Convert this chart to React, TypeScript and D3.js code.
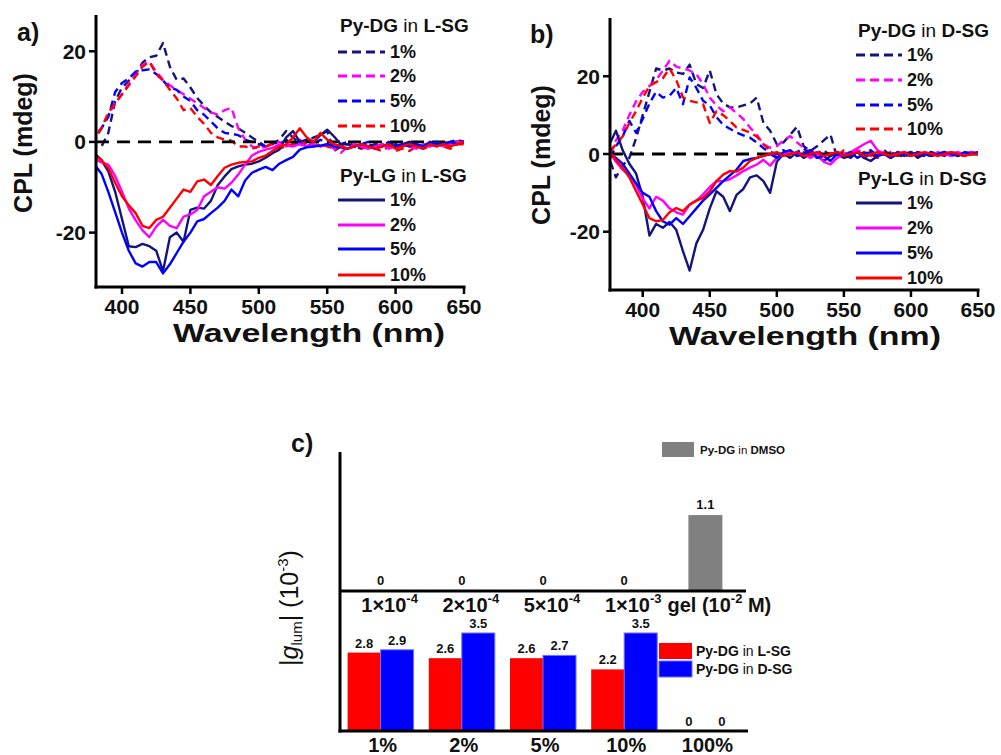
import React from "react";
import * as d3 from "d3";

// wavelength grid (nm) shared by all spectra
const WL = [376, 380, 385, 390, 395, 400, 405, 410, 415, 420, 425, 430, 435, 440, 445, 450,
  455, 460, 465, 470, 475, 480, 485, 490, 495, 500, 505, 510, 515, 520, 525, 530,
  535, 540, 545, 550, 555, 560, 565, 570, 575, 580, 585, 590, 595, 600, 605, 610,
  615, 620, 625, 630, 635, 640, 645, 650];

const CONC = ["1%", "2%", "5%", "10%"];
const CONC_COLORS = ["#14147f", "#ff00ff", "#0000ff", "#ff0000"];

// panel a: Py-DG in L-SG (dashed)
const A_DG_1 = [-1, -1, -1, 2, 9, 12, 13.5, 15, 17.5, 18.7, 19, 21.8, 16.6, 13.7, 14, 12,
  9.7, 8, 6.5, 5.5, 4.5, 3.5, 3, 2, 1, 0, -1, -0.5, 0.5, 2.4, 1, -0.5,
  0, 1, 1.5, 2.4, -2, -1, -0.5, -1, -1.5, -0.5, -1, -0.5, -1, -0.5, -1, 0,
  -0.5, -1, 0, -0.5, 0, -0.5, 0, 0];
const A_DG_2 = [0, 1, 3, 6, 8.5, 10.5, 12.9, 15, 17, 17.7, 15.5, 13.7, 12.5, 11.5, 10.5, 9.5,
  8.5, 7.5, 6.5, 6, 7, 7.5, 3, 0.5, -1, -1.5, -1, -0.5, 0, -1, -0.5, 0.5,
  -1, 0, -1, -0.5, -1.5, -2.4, -1, -0.5, -1, -1.5, -0.5, -1, 0, -1, -0.5, -1,
  -0.5, -1.5, -0.5, -1, 0, -0.5, 0, 0];
const A_DG_5 = [0.5, 1.5, 3, 5.5, 11, 13, 14, 15.5, 15.8, 16, 15, 13.5, 12, 11.5, 10, 9,
  7, 6, 4.5, 3, 2, 1.8, 1.5, 0.5, 0, -0.5, -1, 0, -0.5, 0.5, -0.5, 0,
  -1, -0.5, 0.5, -0.5, -1, -0.5, 0, -1, -0.5, 0, -0.5, -1, 0, -0.5, -1, -0.5,
  0, -0.5, -1, 0, -0.5, 0, 0.5, 0];
const A_DG_10 = [0, 0.5, 3, 6.5, 8.5, 10.5, 12.5, 14.5, 16.6, 17.7, 15, 13.5, 11.5, 9.6, 7, 7.5,
  5.5, 4, 2, 1, 0.5, 0.3, -1, -1, -1.5, -1, -1, -0.5, -1.5, -1, -0.5, -1,
  0, -1, -0.5, -1, -1.5, -1, -0.5, -1, -1.5, -1, -1.5, -2, -1, -2, -1.5, -2,
  -1, -1.5, -1, -0.5, -1, -1.5, -0.5, -0.5];

// panel a: Py-LG in L-SG (solid)
const A_LG_1 = [-2, -2.5, -4, -6.5, -11, -17, -23, -23.2, -22.5, -23, -24, -28.5, -21, -20, -22, -15,
  -14.5, -14.7, -13, -9.5, -7.6, -6, -5.4, -5, -4.8, -4.3, -3.5, -2.5, -1.7, 1, 2.4, 0,
  0.5, 0, 1.5, 2.7, 1.2, -0.5, -0.5, -1, -0.5, -1, -0.5, -1, -0.5, -1, -0.5, 0,
  -0.5, -1, -0.5, 0, -0.5, 0, -0.5, 0];
const A_LG_2 = [-3.5, -3.8, -4.5, -5, -7.5, -11, -14.7, -17.3, -19.5, -21, -18.7, -17.2, -18.5, -19, -16.5, -16,
  -15, -12, -11, -10, -10.3, -9, -7.2, -5, -3, -2.2, -1.7, -1.3, -0.6, -0.8, -1, -0.5,
  -1, -0.5, -1, -0.5, -1.2, -1, -1.5, -0.5, -1, -1.5, -1, -0.5, -1.5, -1, -0.5, -1,
  -1.5, -0.5, -1, -0.5, -1, -0.5, 0, 0];
const A_LG_5 = [-4, -5, -7, -11, -15.5, -20, -24, -26.8, -27.5, -26.5, -26.5, -29, -27, -24.5, -22, -20,
  -17.5, -17, -15.7, -14.5, -13, -10.5, -12, -8.5, -6.8, -6.1, -5.5, -6.2, -4.8, -4, -3.3, -1.7,
  -1.2, -1, -0.8, -0.5, -1, -1.2, -1.5, -1, -0.5, -1, -1.5, -1, -0.5, -1, -0.5, -1,
  -0.5, -1, 0, -0.5, -0.5, 0, -0.5, 0];
const A_LG_10 = [-2.5, -3, -4, -5.8, -9, -12, -14, -15.7, -18.5, -19, -17.2, -16.5, -14.5, -12.5, -10.5, -11,
  -8.7, -8.3, -9.5, -7.5, -5.7, -5, -4.6, -4.4, -4.3, -3.5, -3, -2, -1, -0.6, 1, 3,
  1, 0, 2, 0.5, -0.5, -1, -1.5, -1, -0.5, -1, -1.5, -1, -0.5, -1.5, -1, -0.5,
  -1, -1.5, -0.5, -1, -0.5, -1, -0.5, 0];

// panel b: Py-DG in D-SG (dashed)
const B_DG_1 = [-2, -6, -3, -1, 4, 10, 16, 22, 21.5, 22, 21, 20.6, 23, 18, 17, 21.5,
  15.4, 13, 12, 12, 12.5, 13, 14.5, 8, 6, 2.5, 3, 5, 7, 2, 0.8, 2,
  3.5, 5, -1, 0, -0.5, 0.5, -1, 0, -0.5, 1, -0.5, 0, -1, 0.5, 0, -0.5,
  0.5, -0.5, 0, 0.5, -0.5, 0, 0.5, 0];
const B_DG_2 = [0, 3.5, 6, 10, 13.5, 16, 17.5, 19, 21.5, 24, 22.5, 22, 21.5, 20.5, 18, 14.5,
  12.5, 11, 12, 10.5, 9, 6.8, 5, 2.5, 1.6, 2, 3.5, 4.6, 3, 1.6, 0.5, 1,
  -0.5, 0, 0.5, -0.5, 0, 1, 0.5, -0.5, 0, 0.5, -0.5, 0, 0.5, 0, -0.5, 0.5,
  0, -0.5, 0.5, 0, 0.5, 0, 0, 0.5];
const B_DG_5 = [-1, 2, 4.5, 8.5, 5.5, 9, 13, 16, 14.5, 15, 17, 12.8, 19.7, 17, 13.7, 12.5,
  9.5, 7.5, 6.5, 5.5, 4.8, 4.2, 3, 1.5, 0.5, 0, 1, -0.5, 0.5, 1.5, -0.5, 0,
  1, -0.5, 0.5, 0, -1, 0.5, 0, 1, -0.5, 0, 0.5, -0.5, 0, 0.5, 0, -0.5,
  0.5, 0, -0.5, 0.5, 0, 0.5, 0, 0.5];
const B_DG_10 = [0.8, 2.5, 4.5, 8, 11, 14.5, 17.5, 18.5, 19.5, 22, 19, 14.6, 13.7, 13.3, 12.8, 8,
  11, 10, 8.5, 6.8, 6.2, 5.5, 4.5, 2.5, 1, -1, 0, 1, -0.5, 0.5, 0, -1,
  0.5, 0, -0.5, 1, 0, -0.5, 0.5, 0, -1, 0, 0.5, -0.5, 0, 0.5, -0.5, 0,
  0.5, -0.5, 0, 0.5, 0, -0.5, 0.5, 0];

// panel b: Py-LG in D-SG (solid)
const B_LG_1 = [3, 6, 1, -2.5, -5, -11, -21, -18, -19, -17.5, -19.5, -25, -30, -23, -19.5, -14,
  -9.6, -11, -14.7, -10.5, -9, -6, -5.5, -7, -10, -2, 0, -1, 0.5, -1, 0, -0.5,
  -1.8, -0.5, 0, -1, -0.5, 0.5, -1, -1.8, -0.5, 0, -1, 0, -0.5, 0.5, -1, 0,
  -0.5, 0, 0.5, -0.5, 0, -0.5, 0.5, 0];
const B_LG_2 = [0, -2, -4, -5.5, -8, -11.5, -14, -11, -12, -14, -15, -15.6, -13, -12, -10.4, -8.5,
  -7, -7, -6.5, -5.5, -4.4, -3.5, -2.7, -1.5, -3, -1, 0, 0.5, -0.5, 0, -1, 0,
  -2, -2.7, -1, 0, 0.5, 1.5, 2.5, 3.4, 1, 0, -0.5, 0.5, 0, -0.5, 0.5, 0,
  -0.5, 0.5, 0, -0.5, 0.5, 0, 0.5, 0];
const B_LG_5 = [0, -1, -2.5, -5, -7.5, -10, -11, -14.7, -17.3, -18.2, -16.5, -18, -16, -14, -12, -10.4,
  -8.7, -7, -5.5, -4, -1.8, -1.3, -1, -0.5, 0, -1, 0.5, 1, -0.5, 0, 1, -1,
  -0.5, -1.8, 0, -0.5, 0.5, -1, 0, 0.5, -0.5, 0, -1, 0.5, 0, -0.5, 0.5, 0,
  -0.5, 0, 0.5, 0, -0.5, 0.5, 0, 0.5];
const B_LG_10 = [0.3, -1.5, -3.5, -6, -9.5, -13, -16.5, -17.3, -17, -15, -13.9, -14.7, -13, -12, -11.3, -9.6,
  -7, -5.3, -4.4, -4.5, -3.5, -1.8, -1, -0.5, 0, 0.5, -0.5, 0, 0.5, -0.5, 0, 0.5,
  -0.5, 0, 0.5, -0.5, 0, 0.5, -0.5, 0, 0.5, 0, -0.5, 0, 0.5, -0.5, 0, 0.5,
  0, -0.5, 0, 0.5, 0, -0.5, 0, 0];

const X_TICKS = [400, 450, 500, 550, 600, 650];
const Y_TICKS = [-20, 0, 20];

// panel c
const UPPER_BASE = ["1×10", "2×10", "5×10", "1×10", "gel (10"];
const UPPER_EXP = ["-4", "-4", "-4", "-3", "-2"];
const UPPER_TAIL = ["", "", "", "", " M)"];
const UPPER_VALS = [0, 0, 0, 0, 1.1];
const LOWER_CATS = ["1%", "2%", "5%", "10%", "100%"];
const L_SG = [2.8, 2.6, 2.6, 2.2, 0];
const D_SG = [2.9, 3.5, 2.7, 3.5, 0];

const FONT = "'Liberation Sans', Arial, Helvetica, sans-serif";

function Spectrum({ cfg }) {
  const x = d3.scaleLinear().domain(cfg.xDomain).range([cfg.left, cfg.right]);
  const y = d3.scaleLinear().domain(cfg.yDomain).range([cfg.bottom, cfg.top]);
  const line = d3.line<number>().x((_, i) => x(WL[i])).y((d) => y(d));
  const clipId = "clip-" + cfg.id;
  return (
    <g>
      <defs>
        <clipPath id={clipId}>
          <rect x={cfg.left} y={cfg.top} width={cfg.right - cfg.left} height={cfg.bottom - cfg.top} />
        </clipPath>
      </defs>
      <g clipPath={`url(#${clipId})`} fill="none" strokeWidth={2.4} strokeLinejoin="round">
        {cfg.dg.map((s, i) => (
          <path key={"dg" + i} d={line(s)} stroke={CONC_COLORS[i]} strokeDasharray="8,5" />
        ))}
        <line x1={x(cfg.xDomain[0])} x2={x(650)} y1={y(0)} y2={y(0)} stroke="#000" strokeWidth={2.8} strokeDasharray="13,8" />
        {cfg.lg.map((s, i) => (
          <path key={"lg" + i} d={line(s)} stroke={CONC_COLORS[i]} />
        ))}
      </g>
      {/* axes */}
      <g stroke="#000" strokeWidth={3}>
        <line x1={cfg.left} x2={cfg.left} y1={cfg.top} y2={cfg.bottom + 1.5} />
        <line x1={cfg.left - 1.5} x2={cfg.right + 1.5} y1={cfg.bottom} y2={cfg.bottom} />
        {X_TICKS.map((t) => (
          <line key={t} x1={x(t)} x2={x(t)} y1={cfg.bottom} y2={cfg.bottom + 7} strokeWidth={2.5} />
        ))}
        {Y_TICKS.map((t) => (
          <line key={t} x1={cfg.left - 7} x2={cfg.left} y1={y(t)} y2={y(t)} strokeWidth={2.5} />
        ))}
      </g>
      <g fontFamily={FONT} fontWeight="bold" fontSize={21} fill="#111">
        {X_TICKS.map((t) => (
          <text key={t} x={x(t)} y={cfg.bottom + 27} textAnchor="middle">{t}</text>
        ))}
        {Y_TICKS.map((t) => (
          <text key={t} x={cfg.left - 10} y={y(t)} dy="0.36em" textAnchor="end">{t}</text>
        ))}
        <text x={cfg.xLabelX} y={cfg.bottom + 55} textAnchor="middle" fontSize={25} textLength={272} lengthAdjust="spacingAndGlyphs">Wavelength (nm)</text>
        <text transform={`translate(${cfg.yLabelX},${cfg.yLabelY}) rotate(-90)`} textAnchor="middle" fontSize={25}>CPL (mdeg)</text>
        <text x={cfg.letterX} y={cfg.letterY} fontSize={25}>{cfg.letter}</text>
      </g>
      {/* legend */}
      <g fontFamily={FONT} fontSize={19} fill="#111">
        <text x={cfg.legX0 + 2} y={cfg.title1Y}>
          <tspan fontWeight="bold">Py-DG</tspan><tspan> in </tspan><tspan fontWeight="bold">{cfg.gel}</tspan>
        </text>
        <text x={cfg.legX0 + 2} y={cfg.title2Y}>
          <tspan fontWeight="bold">Py-LG</tspan><tspan> in </tspan><tspan fontWeight="bold">{cfg.gel}</tspan>
        </text>
        {CONC.map((c, i) => (
          <g key={c}>
            <line x1={cfg.legX0} x2={cfg.legX1} y1={cfg.dgY[i]} y2={cfg.dgY[i]} stroke={CONC_COLORS[i]} strokeWidth={3} strokeDasharray="9,5" />
            <text x={cfg.legX1 + 5} y={cfg.dgY[i]} dy="0.36em" fontWeight="bold" fontSize={18}>{c}</text>
            <line x1={cfg.legX0} x2={cfg.legX1} y1={cfg.lgY[i]} y2={cfg.lgY[i]} stroke={CONC_COLORS[i]} strokeWidth={3} />
            <text x={cfg.legX1 + 5} y={cfg.lgY[i]} dy="0.36em" fontWeight="bold" fontSize={18}>{c}</text>
          </g>
        ))}
      </g>
    </g>
  );
}

function BarPanel() {
  const left = 340, right = 746, top = 452, mid = 591, bottom = 731;
  const x0 = d3.scaleBand<string>().domain(LOWER_CATS).range([left, right]);
  const x1 = d3.scaleBand<string>().domain(["L", "D"]).range([0, 66]);
  const off = (x0.bandwidth() - 66) / 2;
  const yUp = d3.scaleLinear().domain([0, 2]).range([mid, top + 1]);
  const yLo = d3.scaleLinear().domain([0, 5]).range([bottom, mid]);
  const barW = 34;
  return (
    <g fontFamily={FONT} fill="#111">
      {/* upper chart (DMSO) */}
      {UPPER_VALS.map((v, i) => {
        const cx = x0(LOWER_CATS[i])! + x0.bandwidth() / 2;
        return (
          <g key={"u" + i}>
            {v > 0 && <rect x={cx - barW / 2} y={yUp(v)} width={barW} height={yUp(0) - yUp(v)} fill="#808080" />}
            <text x={cx} y={yUp(v) - 6} textAnchor="middle" fontSize={13} fontWeight="bold">{v}</text>
            <text x={cx + (i === 4 ? 14 : 9)} y={mid + 21} textAnchor="middle" fontSize={20} fontWeight="bold">
              {UPPER_BASE[i]}<tspan fontSize={13} dy={-9}>{UPPER_EXP[i]}</tspan><tspan dy={9}>{UPPER_TAIL[i]}</tspan>
            </text>
          </g>
        );
      })}
      {/* lower chart (gels) */}
      {LOWER_CATS.map((c, i) => {
        const gx = x0(c)! + off;
        const bars = [
          { k: "L", v: L_SG[i], col: "#ff0000" },
          { k: "D", v: D_SG[i], col: "#0000ff" },
        ];
        return (
          <g key={c}>
            {bars.map((b) => (
              <g key={b.k}>
                {b.v > 0 && (
                  <rect x={gx + x1(b.k)!} y={yLo(b.v)} width={x1.bandwidth()} height={yLo(0) - yLo(b.v)} fill={b.col} stroke={b.col === "#0000ff" ? "#6f6fff" : "none"} strokeWidth={1} />
                )}
                <text x={gx + x1(b.k)! + x1.bandwidth() / 2} y={yLo(b.v) - 5} textAnchor="middle" fontSize={13} fontWeight="bold">{b.v}</text>
              </g>
            ))}
            <text x={x0(c)! + x0.bandwidth() / 2 + 2} y={bottom + 21} textAnchor="middle" fontSize={20} fontWeight="bold">{c}</text>
          </g>
        );
      })}
      <g stroke="#000" strokeWidth={3}>
        <line x1={left} x2={left} y1={top} y2={bottom + 1.5} />
        <line x1={left} x2={right} y1={mid} y2={mid} />
        <line x1={left - 1.5} x2={right + 2} y1={bottom} y2={bottom} />
      </g>
      {/* legends */}
      <rect x={662} y={442} width={32} height={15} fill="#808080" />
      <text x={700} y={454} fontSize={11.5}>
        <tspan fontWeight="bold">Py-DG</tspan><tspan> in </tspan><tspan fontWeight="bold">DMSO</tspan>
      </text>
      <rect x={659} y={643} width={33} height={16} fill="#ff0000" />
      <rect x={659} y={661} width={33} height={16} fill="#0000ff" stroke="#6f6fff" strokeWidth={1} />
      <text x={696} y={656} fontSize={14}>
        <tspan fontWeight="bold">Py-DG</tspan><tspan> in </tspan><tspan fontWeight="bold">L-SG</tspan>
      </text>
      <text x={696} y={674} fontSize={14}>
        <tspan fontWeight="bold">Py-DG</tspan><tspan> in </tspan><tspan fontWeight="bold">D-SG</tspan>
      </text>
      {/* y title */}
      <text transform="translate(298,608) rotate(-90)" textAnchor="middle" fontSize={25}>
        |<tspan fontStyle="italic">g</tspan><tspan fontSize={15} dy={4}>lum</tspan><tspan dy={-4}>|  (10</tspan><tspan fontSize={15} dy={-10}>-3</tspan><tspan dy={10}>)</tspan>
      </text>
      <text x={291} y={452} fontSize={25} fontWeight="bold">c)</text>
    </g>
  );
}

const PANEL_A = {
  id: "a", left: 96, right: 464, top: 15, bottom: 287, xDomain: [381, 650], yDomain: [-32, 28],
  dg: [A_DG_1, A_DG_2, A_DG_5, A_DG_10], lg: [A_LG_1, A_LG_2, A_LG_5, A_LG_10],
  letter: "a)", letterX: 17, letterY: 41, yLabelX: 32, yLabelY: 143, xLabelX: 309,
  gel: "L-SG", legX0: 338, legX1: 385, title1Y: 32, title2Y: 182,
  dgY: [52, 76, 101, 126], lgY: [200, 225, 249, 275],
};
const PANEL_B = {
  id: "b", left: 610, right: 978, top: 18, bottom: 290, xDomain: [375.6, 650], yDomain: [-35, 35],
  dg: [B_DG_1, B_DG_2, B_DG_5, B_DG_10], lg: [B_LG_1, B_LG_2, B_LG_5, B_LG_10],
  letter: "b)", letterX: 530, letterY: 43, yLabelX: 550, yLabelY: 155, xLabelX: 805,
  gel: "D-SG", legX0: 856, legX1: 902, title1Y: 37, title2Y: 185,
  dgY: [55, 80, 105, 129], lgY: [203, 228, 253, 278],
};

export default function App() {
  return (
    <svg width={1001} height={755} style={{ position: "absolute", left: 0, top: 0, background: "#fff" }}>
      <rect width={1001} height={755} fill="#fff" />
      <Spectrum cfg={PANEL_A} />
      <Spectrum cfg={PANEL_B} />
      <BarPanel />
    </svg>
  );
}
